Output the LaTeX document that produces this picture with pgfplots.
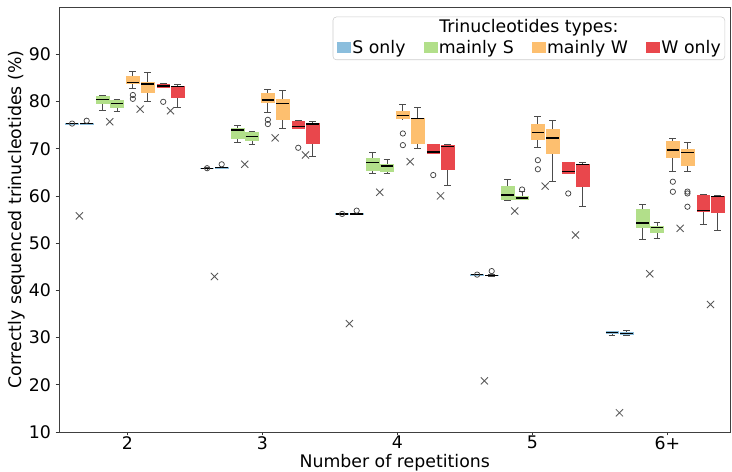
\documentclass[border=0pt]{standalone}
\usepackage{fontspec}
\setmainfont{DejaVu Sans}
\usepackage{pgfplots}
\pgfplotsset{compat=1.18}
\usepgfplotslibrary{statistics}
\usetikzlibrary{calc}
\definecolor{cS}{RGB}{139,190,221}
\definecolor{cMS}{RGB}{178,223,138}
\definecolor{cMW}{RGB}{253,191,111}
\definecolor{cW}{RGB}{233,71,76}
\pgfplotsset{
 bxs/.style={solid, draw=black!70, line width=0.6pt, mark=o, mark size=2pt,
   mark options={draw=black!75, fill=none, line width=0.55pt},
   boxplot/draw direction=y,
   boxplot/box extend=0.094, boxplot/whisker extend=0.05,
   boxplot/every median/.style={draw=black, line width=1pt}},
 mybox/.style={boxplot/every box/.style={draw=#1, fill=#1, line width=0.4pt}},
}
\newcommand{\myboxplot}[8]{\addplot+[bxs, mybox=#1, boxplot prepared={draw position=#2, lower whisker=#3, lower quartile=#4, median=#5, upper quartile=#6, upper whisker=#7}] #8;}
\newcommand{\lgsq}[1]{{\color{#1}\rule{10.5pt}{8.25pt}}\hspace{1pt}}
\begin{document}
\begin{tikzpicture}
\begin{axis}[name=ax, at={(0,0)}, anchor=south west,
 scale only axis, width=503.6pt, height=318.5pt,
 boxplot/draw direction=y,
 xmin=-0.506, xmax=4.468, ymin=10, ymax=100,
 xtick={0,1,2,3,4}, xticklabels={2,3,4,5,6+},
 ytick={10,20,30,40,50,60,70,80,90},
 tick align=outside, major tick length=2.6pt,
 tick style={black!80, line width=0.6pt},
 axis line style={black!75, line width=0.6pt},
 xtick pos=bottom, ytick pos=left,
 ticklabel style={font=\fontsize{13}{15}\selectfont},
 xticklabel style={yshift=3pt},
 /pgf/number format/assume math mode=true,
 label style={font=\fontsize{13}{15}\selectfont},
 xlabel={Number of repetitions},
 ylabel={Correctly sequenced trinucleotides (\%)},
 xlabel style={at={(axis description cs:0.5,-0.073)}, anchor=center},
 ylabel style={at={(axis description cs:-0.0625,0.5)}, anchor=center},
 clip=false,
]
% group 2
\myboxplot{cS}{-0.409}{75.25}{75.3}{75.36}{75.41}{75.46}{table[row sep=\\,y index=0]{y\\75.36\\}}
\myboxplot{cS}{-0.301}{75.25}{75.3}{75.36}{75.41}{75.46}{table[row sep=\\,y index=0]{y\\75.96\\}}
\myboxplot{cMS}{-0.184}{78.22}{79.63}{80.47}{81.17}{81.38}{coordinates {}}
\myboxplot{cMS}{-0.076}{78.01}{78.92}{79.63}{80.33}{80.47}{coordinates {}}
\myboxplot{cMW}{0.041}{82.72}{83.82}{84.12}{85.41}{86.33}{table[row sep=\\,y index=0]{y\\81.41\\80.6\\}}
\myboxplot{cMW}{0.149}{79.97}{81.98}{83.72}{84.14}{86.19}{coordinates {}}
\myboxplot{cW}{0.266}{83.12}{83.15}{83.32}{83.72}{83.77}{table[row sep=\\,y index=0]{y\\79.97\\}}
\myboxplot{cW}{0.374}{78.7}{80.9}{83.27}{83.36}{83.72}{coordinates {}}
% group 3
\myboxplot{cS}{0.591}{65.78}{65.83}{65.9}{65.95}{66.0}{table[row sep=\\,y index=0]{y\\65.9\\}}
\myboxplot{cS}{0.699}{65.88}{65.93}{66.03}{66.08}{66.13}{table[row sep=\\,y index=0]{y\\66.73\\}}
\myboxplot{cMS}{0.816}{71.37}{72.21}{73.97}{74.45}{75.02}{coordinates {}}
\myboxplot{cMS}{0.924}{70.93}{71.85}{72.55}{73.6}{73.73}{coordinates {}}
\myboxplot{cMW}{1.041}{77.64}{79.83}{80.32}{81.72}{82.64}{table[row sep=\\,y index=0]{y\\76.16\\75.26\\}}
\myboxplot{cMW}{1.149}{74.33}{76.3}{79.62}{80.46}{82.49}{coordinates {}}
\myboxplot{cW}{1.266}{74.44}{74.45}{74.67}{75.88}{75.96}{table[row sep=\\,y index=0]{y\\70.23\\}}
\myboxplot{cW}{1.374}{68.33}{71.29}{75.3}{75.39}{75.74}{coordinates {}}
% group 4
\myboxplot{cS}{1.591}{56.1}{56.15}{56.21}{56.25}{56.3}{table[row sep=\\,y index=0]{y\\56.21\\}}
\myboxplot{cS}{1.699}{56.05}{56.1}{56.21}{56.25}{56.3}{table[row sep=\\,y index=0]{y\\56.91\\}}
\myboxplot{cMS}{1.816}{64.82}{65.45}{67.13}{68.1}{69.16}{coordinates {}}
\myboxplot{cMS}{1.924}{64.82}{65.3}{66.36}{66.78}{67.77}{coordinates {}}
\myboxplot{cMW}{2.041}{76.35}{76.43}{77.13}{78.05}{79.4}{table[row sep=\\,y index=0]{y\\73.26\\70.79\\}}
\myboxplot{cMW}{2.149}{70.09}{71.28}{76.5}{76.57}{78.83}{coordinates {}}
\myboxplot{cW}{2.266}{69.1}{69.15}{69.36}{70.99}{71.01}{table[row sep=\\,y index=0]{y\\64.45\\}}
\myboxplot{cW}{2.374}{62.2}{65.73}{70.57}{70.79}{71.0}{coordinates {}}
% group 5
\myboxplot{cS}{2.591}{43.22}{43.27}{43.35}{43.4}{43.45}{table[row sep=\\,y index=0]{y\\43.35\\}}
\myboxplot{cS}{2.699}{43.07}{43.12}{43.21}{43.26}{43.32}{table[row sep=\\,y index=0]{y\\44.1\\}}
\myboxplot{cMS}{2.816}{59.13}{59.35}{60.19}{62.1}{63.52}{coordinates {}}
\myboxplot{cMS}{2.924}{59.23}{59.28}{59.62}{59.98}{60.9}{table[row sep=\\,y index=0]{y\\61.39\\}}
\myboxplot{cMW}{3.041}{70.22}{72.02}{73.53}{75.14}{76.96}{table[row sep=\\,y index=0]{y\\67.6\\65.68\\}}
\myboxplot{cMW}{3.149}{63.16}{69.03}{72.32}{74.24}{75.96}{coordinates {}}
\myboxplot{cW}{3.266}{64.88}{64.93}{65.15}{67.13}{67.2}{table[row sep=\\,y index=0]{y\\60.55\\}}
\myboxplot{cW}{3.374}{57.74}{62.12}{66.65}{66.78}{67.06}{coordinates {}}
% group 6+
\myboxplot{cS}{3.591}{30.44}{30.84}{31.12}{31.34}{31.39}{coordinates {}}
\myboxplot{cS}{3.699}{30.41}{30.64}{30.91}{31.14}{31.46}{coordinates {}}
\myboxplot{cMS}{3.816}{50.81}{53.47}{54.31}{57.2}{58.26}{coordinates {}}
\myboxplot{cMS}{3.924}{51.02}{52.29}{53.34}{53.61}{54.52}{coordinates {}}
\myboxplot{cMW}{4.041}{65.15}{68.32}{69.74}{71.64}{72.21}{table[row sep=\\,y index=0]{y\\63.04\\60.91\\}}
\myboxplot{cMW}{4.149}{65.15}{66.57}{69.17}{69.96}{71.37}{table[row sep=\\,y index=0]{y\\60.95\\60.55\\57.74\\}}
\myboxplot{cW}{4.266}{54.04}{56.86}{57.0}{60.21}{60.35}{coordinates {}}
\myboxplot{cW}{4.374}{52.79}{56.46}{59.95}{60.06}{60.15}{coordinates {}}
% X markers
\addplot[only marks, mark=x, mark size=3.8pt, draw=black!65, mark options={line width=0.65pt}] coordinates {
(-0.355,55.8) (-0.13,75.74) (0.095,78.43) (0.32,78.08)
(0.645,42.95) (0.87,66.73) (1.095,72.33) (1.32,68.69)
(1.645,32.97) (1.87,60.8) (2.095,67.28) (2.32,60.04)
(2.645,20.84) (2.87,56.84) (3.095,62.12) (3.32,51.75)
(3.645,14.07) (3.87,43.52) (4.095,53.16) (4.32,37.03)
};
\end{axis}
\node[anchor=north east, draw=black!20, fill=white, rounded corners=2.5pt, inner xsep=3pt, inner ysep=2pt,
 font=\fontsize{13}{15.5}\selectfont, align=center] at ($(ax.north east)+(-4.1pt,-7.05pt)$)
 {Trinucleotides types:\\ \lgsq{cS}S only\hspace{13.5pt}\lgsq{cMS}mainly S\hspace{13.5pt}\lgsq{cMW}mainly W\hspace{13.5pt}\lgsq{cW}W only};
\pgfresetboundingbox
\path (-44.25pt,-30pt) rectangle (504.725pt,323.975pt);
\end{tikzpicture}
\end{document}
